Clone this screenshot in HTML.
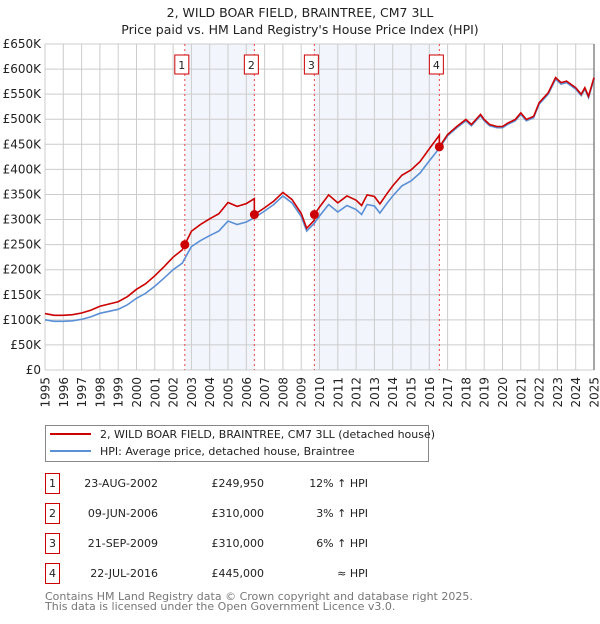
<!DOCTYPE html>
<html><head><meta charset="utf-8"><style>
body{margin:0;background:#fff;width:600px;height:620px;overflow:hidden;font-family:"DejaVu Sans","Liberation Sans",sans-serif}
svg text{font-family:"DejaVu Sans","Liberation Sans",sans-serif}
</style></head><body>
<svg id="c" width="600" height="620" xmlns="http://www.w3.org/2000/svg"></svg>
<script>
const hpiYears=[1995,1995.5,1996,1996.5,1997,1997.5,1998,1998.5,1999,1999.5,2000,2000.5,2001,2001.5,2002,2002.5,2003,2003.5,2004,2004.5,2005,2005.5,2006,2006.5,2007,2007.5,2008,2008.5,2009,2009.3,2009.7,2010,2010.5,2011,2011.5,2012,2012.3,2012.6,2013,2013.3,2013.7,2014,2014.5,2015,2015.5,2016,2016.5,2017,2017.5,2018,2018.3,2018.8,2019,2019.3,2019.7,2020,2020.3,2020.7,2021,2021.3,2021.7,2022,2022.5,2022.9,2023.2,2023.5,2024,2024.3,2024.5,2024.7,2025];
const hpiValues=[100,97,97,98,101,106,113,117,121,130,143,153,167,183,200,213,246,258,268,277,297,290,295,305,317,330,347,333,306,277,292,307,330,315,328,320,310,330,327,313,333,347,367,377,393,417,440,467,483,497,487,507,497,487,483,483,490,497,510,497,503,530,550,580,570,573,560,547,560,543,580];
const saleDates=[2002.64,2006.44,2009.72,2016.55];
const salePrices=[249950,310000,310000,445000];
const saleLabels=["1","2","3","4"];
const yTicks=[0,50,100,150,200,250,300,350,400,450,500,550,600,650];
const yTickLabels=["£0","£50K","£100K","£150K","£200K","£250K","£300K","£350K","£400K","£450K","£500K","£550K","£600K","£650K"];
const xTicks=[1995,1996,1997,1998,1999,2000,2001,2002,2003,2004,2005,2006,2007,2008,2009,2010,2011,2012,2013,2014,2015,2016,2017,2018,2019,2020,2021,2022,2023,2024,2025];

const L=45,R=594,T=44,B=370;
const X=y=>L+(y-1995)*(R-L)/30;
const Y=v=>B-v*(B-T)/650;
const NS="http://www.w3.org/2000/svg";
const svg=document.getElementById('c');
const HV=hpiValues;
function mk(tag,a,parent){const e=document.createElementNS(NS,tag);for(const k in a)e.setAttribute(k,a[k]);(parent||svg).appendChild(e);return e;}
function hpiAt(t){for(let i=0;i<hpiYears.length-1;i++){if(t>=hpiYears[i]&&t<=hpiYears[i+1]){const f=(t-hpiYears[i])/(hpiYears[i+1]-hpiYears[i]);return HV[i]+f*(HV[i+1]-HV[i]);}}return HV[HV.length-1];}

let t=mk('text',{x:300,y:17,'text-anchor':'middle','font-size':12.5,fill:'#222'});t.textContent="2, WILD BOAR FIELD, BRAINTREE, CM7 3LL";


t=mk('text',{x:300,y:34,'text-anchor':'middle','font-size':12.5,fill:'#222'});t.textContent="Price paid vs. HM Land Registry's House Price Index (HPI)";



for(let i=0;i<saleDates.length;i+=2){
  const r=mk('rect',{x:X(saleDates[i]),y:T,width:X(saleDates[i+1])-X(saleDates[i]),height:B-T,fill:'#eef2fb',opacity:0.75});
  
  
}
yTicks.forEach((v,i)=>{
  const g=mk('line',{x1:L,x2:R,y1:Y(v),y2:Y(v),stroke:'#cccccc','stroke-width':1});
  
  
  const tx=mk('text',{x:41,y:Y(v)+4,'text-anchor':'end','font-size':12,fill:'#222'});tx.textContent=yTickLabels[i];
  
  
});
xTicks.forEach(yr=>{
  const g=mk('line',{x1:X(yr),x2:X(yr),y1:T,y2:B,stroke:'#cccccc','stroke-width':1});
  
  
  const tx=mk('text',{x:X(yr)+4.5,y:377,'text-anchor':'end','font-size':12,fill:'#222',transform:'rotate(-90 '+(X(yr)+4.5)+' 377)'});tx.textContent=yr;
  
  
});
let rb=mk('line',{x1:R,x2:R,y1:T,y2:B,stroke:'#888','stroke-width':1.5});



saleDates.forEach((d,i)=>{
  const ln=mk('line',{x1:X(d),x2:X(d),y1:T,y2:B,stroke:'#ee4444','stroke-width':1,'stroke-dasharray':'2,3'});
  
  
  const bx=mk('rect',{x:X(d)-10,y:55,width:14,height:19,fill:'#fff',stroke:'#cc0000','stroke-width':1});
  
  
  const tx=mk('text',{x:X(d)-3,y:69,'text-anchor':'middle','font-size':11,fill:'#222'});tx.textContent=saleLabels[i];
  
  
});

let pts=hpiYears.map((y,i)=>X(y)+','+Y(HV[i])).join(' ');
let hl=mk('polyline',{points:pts,fill:'none',stroke:'#5b8fd6','stroke-width':1.6});



function ratioAt(tt){let k=0;for(let i=0;i<saleDates.length;i++)if(tt>=saleDates[i])k=i;return salePrices[k]/1000/hpiAt(saleDates[k]);}
let rp=[];
hpiYears.forEach((y,i)=>{
  saleDates.forEach(d=>{if(i>0&&d>hpiYears[i-1]&&d<=y){const h=hpiAt(d);rp.push([d,h*ratioAt(d-1e-6)]);rp.push([d,h*ratioAt(d)]);}});
  rp.push([y,HV[i]*ratioAt(y)]);
});
let pl=mk('polyline',{points:rp.map(p=>X(p[0])+','+Y(p[1])).join(' '),fill:'none',stroke:'#cc0000','stroke-width':1.6});


saleDates.forEach((d,i)=>{
  const c=mk('circle',{cx:X(d),cy:Y(salePrices[i]/1000),r:4.5,fill:'#cc0000'});
  
  
});

const lg=mk('g',{});


mk('rect',{x:45.5,y:425.5,width:383,height:36,fill:'#fff',stroke:'#888'},lg);
mk('line',{x1:50,x2:91,y1:434,y2:434,stroke:'#cc0000','stroke-width':2},lg);
mk('line',{x1:50,x2:91,y1:451,y2:451,stroke:'#5b8fd6','stroke-width':2},lg);
let l1=mk('text',{x:100,y:438,'font-size':11,fill:'#222'},lg);l1.textContent="2, WILD BOAR FIELD, BRAINTREE, CM7 3LL (detached house)";


let l2=mk('text',{x:100,y:455,'font-size':11,fill:'#222'},lg);l2.textContent="HPI: Average price, detached house, Braintree";



const dates=["23-AUG-2002","09-JUN-2006","21-SEP-2009","22-JUL-2016"];
const prices=["£249,950","£310,000","£310,000","£445,000"];
const rel=["12% ↑ HPI","3% ↑ HPI","6% ↑ HPI","≈ HPI"];
const rowY=[483,513,543,573];
rowY.forEach((ry,i)=>{
  const b=mk('rect',{x:45.5,y:ry-9.5,width:14,height:20,fill:'#fff',stroke:'#cc0000'});
  
  
  let a=mk('text',{x:52.5,y:ry+4,'text-anchor':'middle','font-size':11,fill:'#222'});a.textContent=saleLabels[i];
  
  
  a=mk('text',{x:158,y:ry+4,'text-anchor':'end','font-size':11,fill:'#222'});a.textContent=dates[i];
  
  
  a=mk('text',{x:264,y:ry+4,'text-anchor':'end','font-size':11,fill:'#222'});a.textContent=prices[i];
  
  
  a=mk('text',{x:368,y:ry+4,'text-anchor':'end','font-size':11,fill:'#222'});a.textContent=rel[i];
  
  
});
let f=mk('text',{x:45,y:600,'font-size':11,fill:'#777'});f.textContent="Contains HM Land Registry data © Crown copyright and database right 2025.";


f=mk('text',{x:45,y:610,'font-size':11,fill:'#777'});f.textContent="This data is licensed under the Open Government Licence v3.0.";


</script>
</body></html>
